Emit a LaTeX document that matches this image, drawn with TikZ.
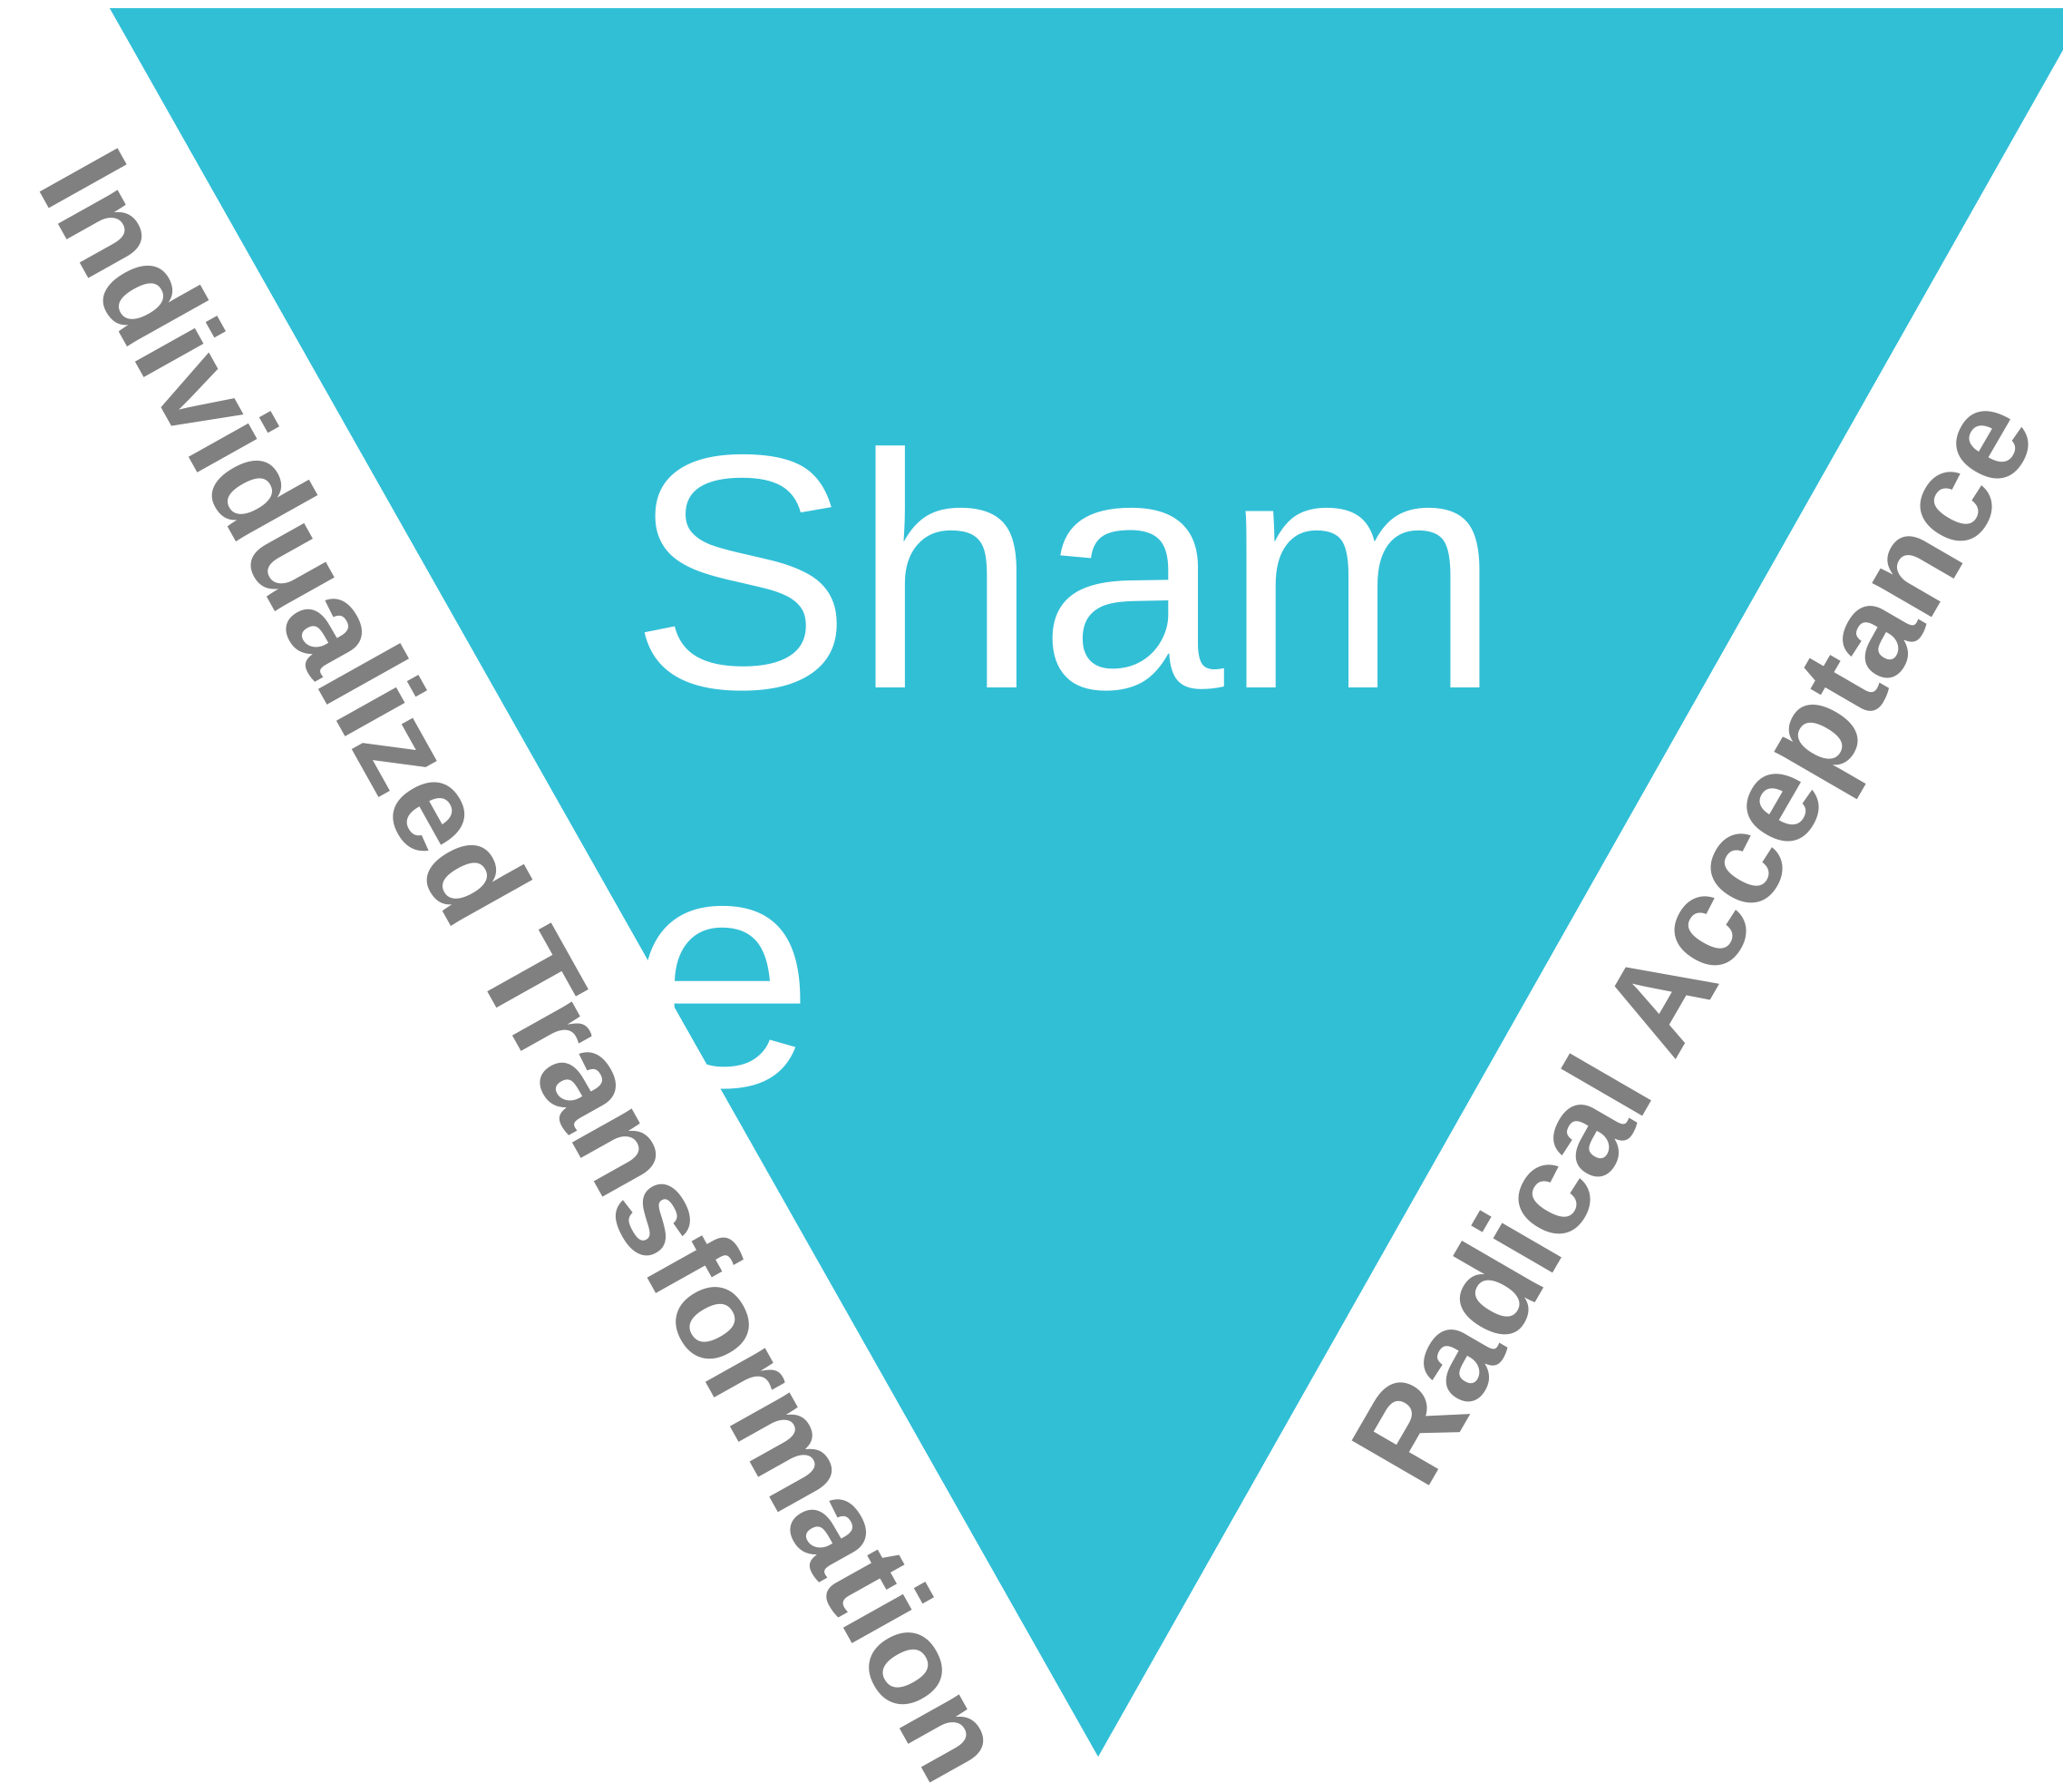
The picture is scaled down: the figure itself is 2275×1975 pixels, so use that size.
\documentclass[tikz,border=0pt]{standalone}
\usepackage{fontspec}
\setmainfont{Liberation Sans}
\definecolor{tri}{RGB}{49,191,214}
\definecolor{lbl}{RGB}{128,128,128}
\begin{document}
\begin{tikzpicture}[x=0.01cm,y=-0.01cm,
  sidelabel/.style={text=lbl, font=\bfseries\fontsize{40.7}{48}\selectfont, inner sep=0pt, anchor=base},
  titletext/.style={text=white, font=\fontsize{104.7}{124.9}\selectfont, inner sep=0pt, anchor=base west}]
\useasboundingbox (0,0) rectangle (2275,1975);
\clip (0,0) rectangle (2275,1975);
\fill[tri] (121,9) coordinate (tl) -- (2301,9) coordinate (tr) -- (1211,1937) coordinate (apex) -- cycle;
\node[sidelabel, rotate=-60.78] (left) at (534.9,1088.4) {Individualized Transformation};
\node[sidelabel, rotate=59.92] (right) at (1910.4,1060.9) {Radical Acceptance};
\node[titletext] (shame) at (694,758) {\vtop{\hbox{Sham}\hbox{e}}};
\end{tikzpicture}
\end{document}
